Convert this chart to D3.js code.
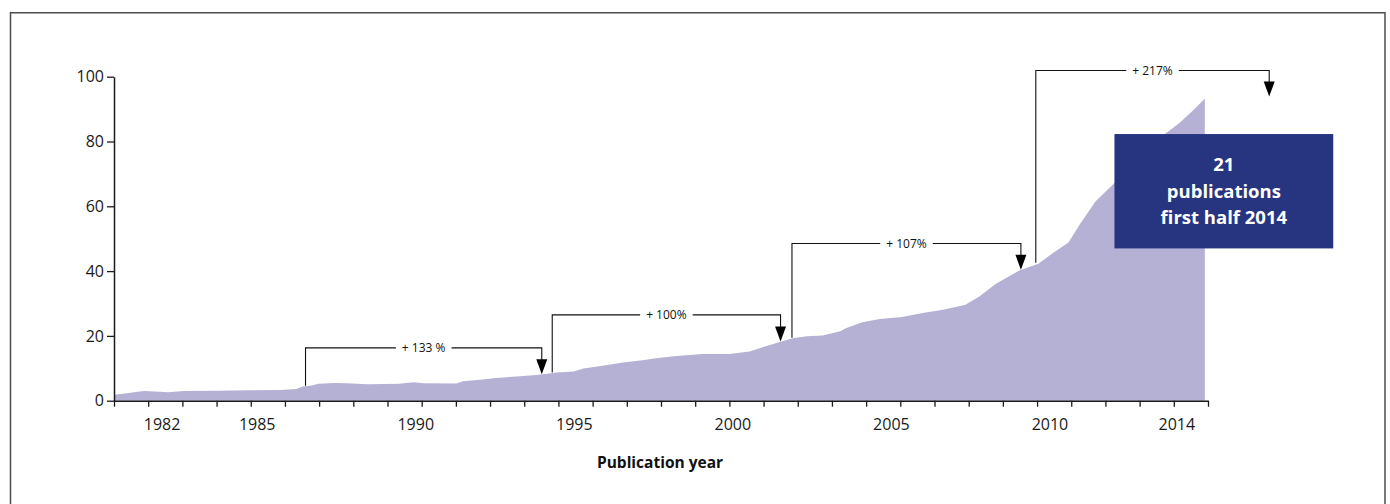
<!DOCTYPE html>
<html>
<head>
<meta charset="utf-8">
<script src="https://cdn.jsdelivr.net/npm/d3@7"></script>
<style>
  html, body { margin: 0; padding: 0; background: #fff; }
  svg { display: block; font-family: "Open Sans", "DejaVu Sans", sans-serif; }
</style>
</head>
<body>
<svg id="chart" width="1390" height="504"></svg>
<script>
// ---- data ----
const years = [1980.5, 1980.9, 1981.25, 1981.45, 1981.95, 1982.2, 1982.7, 1983.75, 1984.8, 1985.75,
  1986.25, 1986.45, 1986.7, 1986.95, 1987.45, 1987.85, 1988.5, 1989.5, 1989.95, 1990.25,
  1991.3, 1991.5, 1991.95, 1992.55, 1993.2, 1993.9, 1994.45, 1995.0, 1995.3, 1995.8,
  1996.55, 1997.1, 1997.6, 1998.15, 1999.05, 1999.9, 2000.55, 2001.05, 2001.5, 2001.9,
  2002.35, 2002.85, 2003.4, 2003.6, 2004.1, 2004.65, 2005.35, 2006.0, 2006.65, 2007.35,
  2007.8, 2008.3, 2009.05, 2009.65, 2010.1, 2010.6, 2010.95, 2011.45, 2012.0, 2012.5,
  2013.0, 2013.65, 2014.1, 2014.5, 2014.9];
const publications = [1.8, 2.3, 2.8, 3.0, 2.8, 2.6, 3.0, 3.1, 3.2, 3.3,
  3.6, 4.4, 4.6, 5.2, 5.5, 5.4, 5.1, 5.2, 5.7, 5.4,
  5.3, 6.0, 6.4, 7.0, 7.5, 8.0, 8.7, 9.0, 9.9, 10.6,
  11.8, 12.4, 13.1, 13.7, 14.4, 14.4, 15.2, 16.8, 18.1, 19.3,
  19.9, 20.1, 21.4, 22.4, 24.2, 25.2, 25.8, 27.1, 28.1, 29.6,
  32.2, 36.0, 40.2, 42.3, 45.5, 48.8, 54.3, 61.5, 66.7, 71.5,
  76.2, 82.4, 85.7, 89.3, 93.2];

const yTickValues = [0, 20, 40, 60, 80, 100];
const xLabelYears = [1982, 1985, 1990, 1995, 2000, 2005, 2010, 2014];
const xDomain = [1980.5, 2015];
const xTickCount = 33;

const annLabels   = ["+ 133 %", "+ 100%", "+ 107%", "+ 217%"];
const annFromYear = [1986.54, 1994.32, 2001.88, 2009.57];
const annToYear   = [1993.99, 2001.52, 2009.10, 2016.93];
const annFromVal  = [4.6, 8.7, 19.4, 42.6];
const annToVal    = [8.2, 18.3, 40.4, 93.9];
const annTopVal   = [16.3, 26.5, 48.5, 101.9];

const boxLines = ["21", "publications", "first half 2014"];
const boxYears = [2012.05, 2018.95];
const boxVals  = [82.3, 47.0];

const xTitle = "Publication year";

// ---- layout ----
const svg = d3.select("#chart");
const plot = { left: 114, right: 1208, top: 76.7, bottom: 400.7 };

const x = d3.scaleLinear().domain(xDomain).range([plot.left, plot.right]);
const y = d3.scaleLinear().domain([0, 100]).range([plot.bottom, plot.top]);
const tickGrid = d3.scaleLinear().domain([0, xTickCount - 1]).range([plot.left, plot.right]);

// outer frame
svg.append("rect")
  .attr("x", 10.5).attr("y", 12.75)
  .attr("width", 1374.5).attr("height", 520)
  .attr("fill", "none").attr("stroke", "#4d4d4d").attr("stroke-width", 1.5);

// area
const data = years.map((yr, i) => [yr, publications[i]]);
svg.append("path")
  .datum(data)
  .attr("fill", "#b4b1d5")
  .attr("d", d3.area().x(d => x(d[0])).y0(y(0)).y1(d => y(d[1])));

// y axis
const yAxis = svg.append("g")
  .attr("transform", `translate(${plot.left},0)`)
  .call(d3.axisLeft(y).tickValues(yTickValues).tickSize(7).tickSizeOuter(0).tickPadding(3));
yAxis.select(".domain").attr("stroke", "#1a1a1a").attr("stroke-width", 1.5);
yAxis.selectAll(".tick line").attr("stroke", "#1a1a1a").attr("stroke-width", 1.3);
yAxis.selectAll("text").attr("font-size", 16).attr("fill", "#1a1a1a")
  .attr("font-family", "'Open Sans', sans-serif");

// x axis ticks (uniform divisions)
const xTicks = svg.append("g")
  .attr("transform", `translate(0,${plot.bottom})`)
  .call(d3.axisBottom(tickGrid).tickValues(d3.range(xTickCount)).tickSize(6).tickSizeOuter(0).tickFormat(""));
xTicks.select(".domain").attr("stroke", "#1a1a1a").attr("stroke-width", 1.5);
xTicks.selectAll(".tick line").attr("stroke", "#1a1a1a").attr("stroke-width", 1.3);

// x axis labels
const xLabels = svg.append("g")
  .attr("transform", `translate(0,${plot.bottom})`)
  .call(d3.axisBottom(x).tickValues(xLabelYears).tickSize(0).tickPadding(17.5).tickFormat(d3.format("d")));
xLabels.select(".domain").remove();
xLabels.selectAll("text").attr("font-size", 16).attr("fill", "#1a1a1a")
  .attr("font-family", "'Open Sans', sans-serif");

// x title
svg.append("text")
  .attr("x", 660)
  .attr("y", 468)
  .attr("text-anchor", "middle")
  .attr("font-size", 15.5)
  .attr("font-weight", "bold")
  .attr("fill", "#111")
  .text(xTitle);

// annotations
annLabels.forEach((lab, i) => {
  const g = svg.append("g");
  const x0 = x(annFromYear[i]), x1 = x(annToYear[i]);
  const yTop = y(annTopVal[i]), y0 = y(annFromVal[i]), yTip = y(annToVal[i]);
  const headH = 15, headW = 5.5;
  g.append("path")
    .attr("d", `M${x0},${y0}V${yTop}H${x1}V${yTip - headH + 1}`)
    .attr("fill", "none").attr("stroke", "#111").attr("stroke-width", 1.1);
  g.append("path")
    .attr("d", `M${x1 - headW},${yTip - headH}L${x1 + headW},${yTip - headH}L${x1},${yTip}Z`)
    .attr("fill", "#000");
  const t = g.append("text")
    .attr("x", (x0 + x1) / 2)
    .attr("y", yTop)
    .attr("dy", "0.35em")
    .attr("text-anchor", "middle")
    .attr("font-size", 12)
    .attr("fill", "#111")
    .text(lab);
  const bb = t.node().getBBox();
  g.append("rect")
    .attr("x", bb.x - 6).attr("y", yTop - 4)
    .attr("width", bb.width + 12).attr("height", 8)
    .attr("fill", "#fff");
  t.raise();
});

// highlight box
const bx0 = x(boxYears[0]), bx1 = x(boxYears[1]);
const by0 = y(boxVals[0]), by1 = y(boxVals[1]);
svg.append("rect")
  .attr("x", bx0).attr("y", by0)
  .attr("width", bx1 - bx0).attr("height", by1 - by0)
  .attr("fill", "#27347f");
const lineStep = 26.7;
boxLines.forEach((ln, i) => {
  svg.append("text")
    .attr("x", (bx0 + bx1) / 2)
    .attr("y", (by0 + by1) / 2 - lineStep + 6.5 + i * lineStep)
    .attr("text-anchor", "middle")
    .attr("font-size", 18.5)
    .attr("font-weight", "bold")
    .attr("fill", "#fff")
    .text(ln);
});
</script>
</body>
</html>
